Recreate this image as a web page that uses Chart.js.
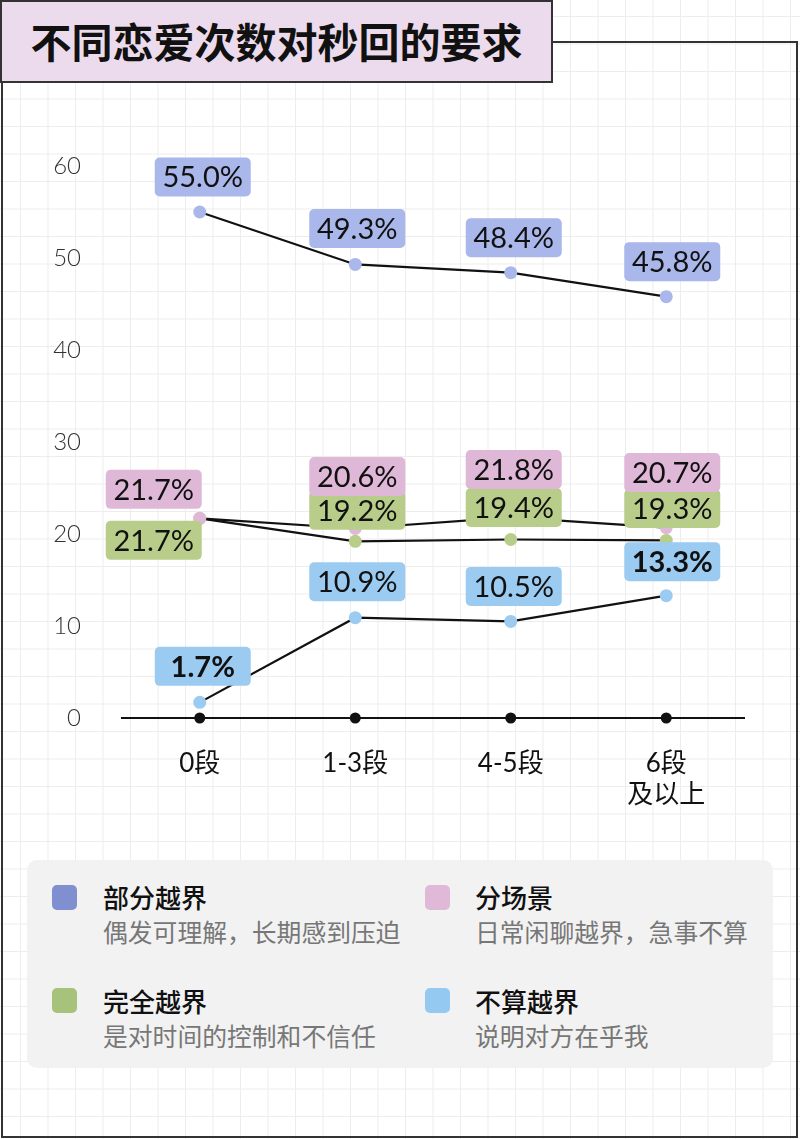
<!DOCTYPE html>
<html><head><meta charset="utf-8">
<script src="https://cdn.jsdelivr.net/npm/chart.js@4"></script>
<style>
html,body{margin:0;padding:0;}
body{width:800px;height:1139px;position:relative;overflow:hidden;background-color:#fff;
 background-image:linear-gradient(#ededed 1px, transparent 1px),linear-gradient(90deg,#ededed 1px, transparent 1px);
 background-size:27.5px 27.5px;background-position:20px 16px;}
#frame{position:absolute;left:1px;top:41px;width:797px;height:1097px;border:2px solid #333;box-sizing:border-box;z-index:0;}
#title{position:absolute;left:0;top:0;width:553px;height:83px;background:#ecdbec;border:2px solid #333;box-sizing:border-box;z-index:3;
 font-family:"Noto Sans CJK SC",sans-serif;font-weight:700;font-size:41px;color:#111;text-align:center;line-height:76px;}
#c{position:absolute;left:0;top:0;z-index:1;}
#legend{position:absolute;left:27px;top:860px;width:746px;height:208px;background:#f2f2f2;border-radius:10px;z-index:2;}
.sw{position:absolute;width:25px;height:25px;border-radius:5px;}
.lt{position:absolute;font-family:"Noto Sans CJK SC",sans-serif;font-size:26px;font-weight:500;color:#111;line-height:30px;white-space:nowrap;}
.ls{position:absolute;font-family:"Noto Sans CJK SC",sans-serif;font-size:24.8px;font-weight:400;color:#777;line-height:30px;white-space:nowrap;}
</style></head>
<body>
<div id="frame"></div>
<div id="title">不同恋爱次数对秒回的要求</div>
<canvas id="c" width="800" height="1139"></canvas>
<div id="legend"></div>
<script>
const categories = ['0段', '1-3段', '4-5段', ['6段', '及以上']];
const seriesNames = ['部分越界', '分场景', '完全越界', '不算越界'];
const seriesNotes = ['偶发可理解，长期感到压迫', '日常闲聊越界，急事不算', '是对时间的控制和不信任', '说明对方在乎我'];
const partial = [55.0, 49.3, 48.4, 45.8];
const situational = [21.7, 20.6, 21.8, 20.7];
const complete = [21.7, 19.2, 19.4, 19.3];
const notCount = [1.7, 10.9, 10.5, 13.3];
const yTicks = [0, 10, 20, 30, 40, 50, 60];

const pointColors = ['#a9b7ea', '#dfb8d8', '#b9cd8a', '#9ccbf2'];
const legendColors = ['#7f8fd0', '#e0b9d9', '#a7c27a', '#94c9f2'];

// label box placement relative to each point (style only)
const labelStyle = [
  {dx:[3,2,3,6], dy:[-35,-36,-35,-35], bold:[]},
  {dx:[-46,2,3,6], dy:[-29,-52,-48,-55], bold:[]},
  {dx:[-46,2,3,6], dy:[22,-31,-32,-32], bold:[]},
  {dx:[3,2,3,6], dy:[-36,-36,-35,-34], bold:[0,3]}
];
const labelDrawOrder = [2,1,0,3];

const seriesData = [partial, situational, complete, notCount];

const datasets = seriesData.map((d, i) => ({
  label: seriesNames[i],
  data: d,
  borderColor: '#111',
  borderWidth: 2.2,
  pointBackgroundColor: pointColors[i],
  pointBorderWidth: 0,
  pointRadius: 6.5,
  pointHoverRadius: 6.5,
  tension: 0,
  clip: false
}));
datasets.push({
  label: 'axis',
  data: categories.map(() => 0),
  showLine: false,
  pointBackgroundColor: '#111',
  pointBorderWidth: 0,
  pointRadius: 5.5,
  clip: false
});

const labelPlugin = {
  id: 'boxLabels',
  afterDatasetsDraw(chart) {
    const ctx = chart.ctx;
    labelDrawOrder.forEach(si => {
      const meta = chart.getDatasetMeta(si);
      const st = labelStyle[si];
      meta.data.forEach((pt, i) => {
        const cx = pt.x + st.dx[i], cy = pt.y + st.dy[i];
        const w = 96, h = 39;
        ctx.save();
        ctx.fillStyle = pointColors[si];
        ctx.beginPath();
        ctx.roundRect(cx - w/2, cy - h/2, w, h, 5);
        ctx.fill();
        const bold = st.bold.includes(i);
        ctx.fillStyle = '#111';
        ctx.font = (bold ? '700 ' : '400 ') + '29px Lato, "Noto Sans CJK SC", sans-serif';
        ctx.textAlign = 'center';
        ctx.textBaseline = 'middle';
        ctx.fillText(seriesData[si][i].toFixed(1) + '%', cx, cy + 1);
        ctx.restore();
      });
    });
  }
};

new Chart(document.getElementById('c'), {
  type: 'line',
  data: { labels: categories, datasets },
  options: {
    responsive: false,
    animation: false,
    events: [],
    layout: { padding: { top: 166, right: 56, left: 0, bottom: 0 } },
    plugins: { legend: { display: false }, tooltip: { enabled: false } },
    scales: {
      x: {
        offset: true,
        grid: { display: false },
        border: { display: true, color: '#111', width: 2 },
        ticks: { padding: 22, color: '#111', maxRotation: 0, autoSkip: false,
          font: { family: 'Lato, "Noto Sans CJK SC", sans-serif', size: 26, lineHeight: 1.2 } },
        afterFit(s) { s.height = 1139 - 718; }
      },
      y: {
        min: 0, max: 60,
        grid: { display: false },
        border: { display: false },
        afterBuildTicks(s) { s.ticks = yTicks.map(v => ({ value: v })); },
        ticks: { padding: 33, color: '#333',
          font: { family: 'Lato, sans-serif', size: 24, weight: '300' } },
        afterFit(s) { s.width = 122; }
      }
    }
  },
  plugins: [labelPlugin]
});

// legend
const lg = document.getElementById('legend');
const pos = [[0,0],[1,0],[0,1],[1,1]];
seriesNames.forEach((n, i) => {
  const [c, r] = pos[i];
  const sx = c ? 398 : 25, tx = c ? 448 : 76;
  const sy = r ? 128 : 25, ty = r ? 126 : 22;
  const sw = document.createElement('div'); sw.className = 'sw';
  sw.style.left = sx + 'px'; sw.style.top = sy + 'px'; sw.style.background = legendColors[i];
  const t = document.createElement('div'); t.className = 'lt'; t.textContent = n;
  t.style.left = tx + 'px'; t.style.top = ty + 'px';
  const s = document.createElement('div'); s.className = 'ls'; s.textContent = seriesNotes[i];
  s.style.left = tx + 'px'; s.style.top = (ty + 34) + 'px';
  lg.append(sw, t, s);
});
</script>
</body></html>
